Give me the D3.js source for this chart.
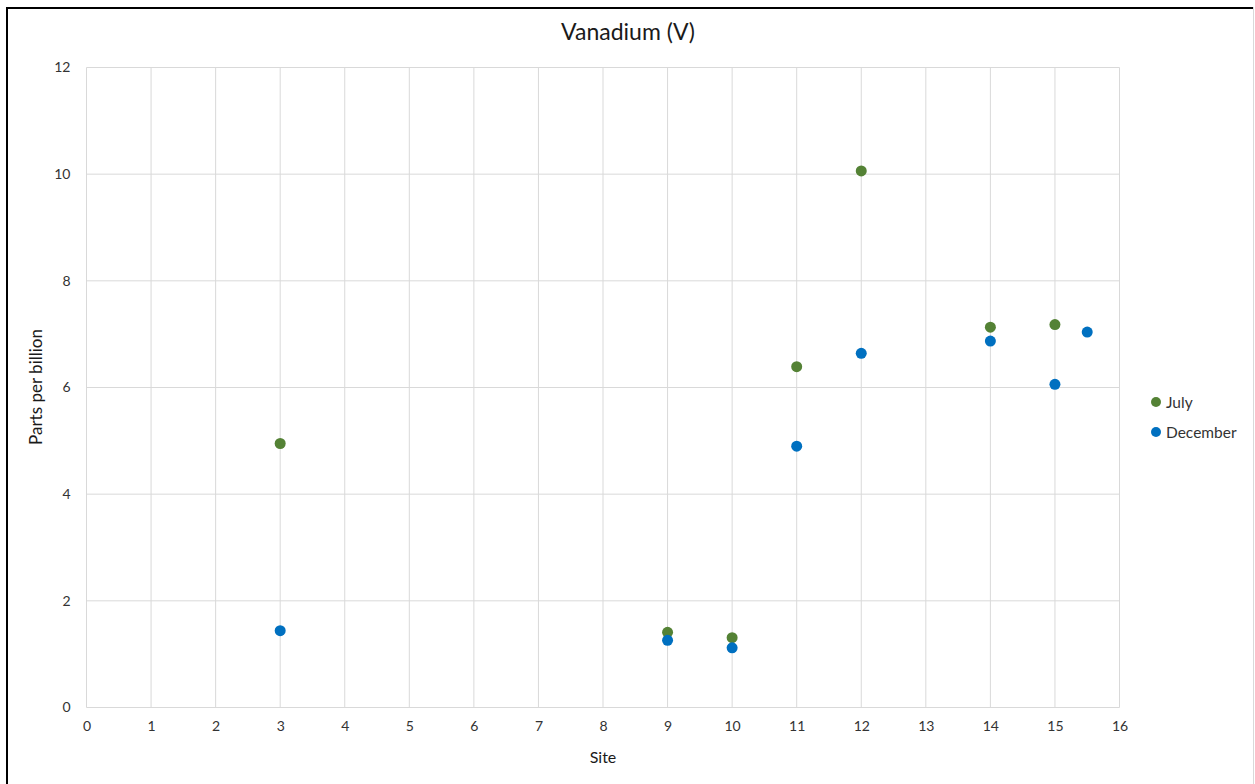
<!DOCTYPE html>
<html>
<head>
<meta charset="utf-8">
<script src="https://cdn.jsdelivr.net/npm/d3@7"></script>
<style>
  body { margin: 0; background: #fff; }
  svg { display: block; font-family: Lato, "Open Sans", sans-serif; }
</style>
</head>
<body>
<svg id="chart" width="1255" height="784"></svg>
<script>
// chart data
const title = "Vanadium (V)";
const seriesNames = ["July", "December"];
const seriesColors = ["#548235", "#0070C0"];
const julySites = [3, 9, 10, 11, 12, 14, 15];
const julyValues = [4.95, 1.41, 1.31, 6.39, 10.06, 7.13, 7.18];
const decSites = [3, 9, 10, 11, 12, 14, 15, 15.5];
const decValues = [1.44, 1.26, 1.12, 4.9, 6.64, 6.87, 6.06, 7.04];
const xTicks = d3.range(0, 17, 1);
const yTicks = d3.range(0, 13, 2);

const svg = d3.select("#chart");

// outer frame
svg.append("rect")
  .attr("x", 6.5).attr("y", 7.5)
  .attr("width", 1247).attr("height", 790)
  .attr("fill", "#fff")
  .attr("stroke", "#d9d9d9");
svg.append("path")
  .attr("d", "M7,790 V8 H1253")
  .attr("fill", "none")
  .attr("stroke", "#000")
  .attr("stroke-width", 2);

const plotL = 86.5, plotR = 1119.5, plotT = 67.5, plotB = 707.5;
const x = d3.scaleLinear().domain([0, 16]).range([plotL, plotR]);
const y = d3.scaleLinear().domain([0, 12]).range([plotB, plotT]);

// gridlines
const grid = svg.append("g");
grid.selectAll(".vx").data(xTicks).enter().append("line")
  .attr("x1", d => x(d)).attr("x2", d => x(d))
  .attr("y1", plotT).attr("y2", plotB)
  .attr("stroke", "#d9d9d9").attr("stroke-width", 1);
grid.selectAll(".hy").data(yTicks).enter().append("line")
  .attr("x1", plotL).attr("x2", plotR)
  .attr("y1", d => y(d)).attr("y2", d => y(d))
  .attr("stroke", "#d9d9d9").attr("stroke-width", 1);

// axes (labels only)
const xAxis = svg.append("g")
  .attr("transform", "translate(0," + plotB + ")")
  .call(d3.axisBottom(x).tickValues(xTicks).tickSize(0).tickPadding(14));
const yAxis = svg.append("g")
  .attr("transform", "translate(" + plotL + ",0)")
  .call(d3.axisLeft(y).tickValues(yTicks).tickSize(0).tickPadding(16));
[xAxis, yAxis].forEach(a => {
  a.select(".domain").remove();
  a.selectAll("text")
    .attr("fill", "#333")
    .style("font-size", "14px")
    .style("font-family", "Lato, sans-serif");
});

// title and axis titles
svg.append("text")
  .attr("x", 628).attr("y", 40)
  .attr("text-anchor", "middle")
  .attr("fill", "#1a1a1a")
  .style("font-size", "23px")
  .text(title);
svg.append("text")
  .attr("x", 603).attr("y", 763)
  .attr("text-anchor", "middle")
  .attr("fill", "#1a1a1a")
  .style("font-size", "16px")
  .text("Site");
svg.append("text")
  .attr("transform", "translate(42,387) rotate(-90)")
  .attr("text-anchor", "middle")
  .attr("fill", "#1a1a1a")
  .style("font-size", "17px")
  .text("Parts per billion");

// points
const series = [
  { name: seriesNames[0], color: seriesColors[0], sites: julySites, values: julyValues },
  { name: seriesNames[1], color: seriesColors[1], sites: decSites, values: decValues }
];
series.forEach(s => {
  svg.append("g").selectAll("circle")
    .data(s.sites.map((d, i) => ({ site: d, v: s.values[i] })))
    .enter().append("circle")
    .attr("cx", d => x(d.site))
    .attr("cy", d => y(d.v))
    .attr("r", 5.5)
    .attr("fill", s.color);
});

// legend
const legend = svg.append("g").attr("transform", "translate(1156,402)");
series.forEach((s, i) => {
  const g = legend.append("g").attr("transform", "translate(0," + i * 30 + ")");
  g.append("circle").attr("r", 5).attr("fill", s.color);
  g.append("text")
    .attr("x", 10).attr("y", 5.5)
    .attr("fill", "#333")
    .style("font-size", "15.5px")
    .text(s.name);
});
</script>
</body>
</html>
